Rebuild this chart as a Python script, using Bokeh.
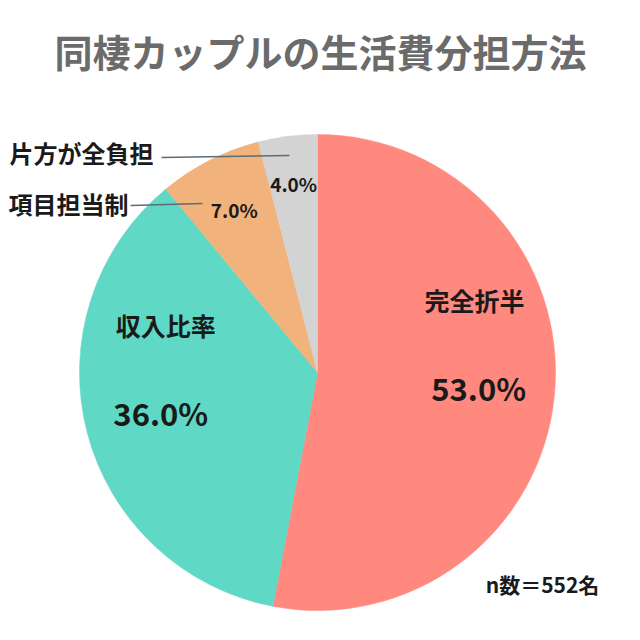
import math
from bokeh.plotting import figure
from bokeh.models import ColumnDataSource
from bokeh.core.properties import value
from bokeh.embed import file_html
from bokeh.resources import INLINE

# ---- data ----
categories = ["完全折半", "収入比率", "項目担当制", "片方が全負担"]
shares = [53.0, 36.0, 7.0, 4.0]
colors = ["#FF897F", "#5FD9C5", "#F1B27C", "#D3D3D3"]
title_text = "同棲カップルの生活費分担方法"
note_text = "n数＝552名"

W = H = 640
FONT = value("Noto Sans CJK JP")

p = figure(width=W, height=H, x_range=(0, W), y_range=(0, H),
           output_backend="svg", toolbar_location=None, min_border=0)
p.axis.visible = False
p.grid.visible = False
p.outline_line_color = None
p.background_fill_color = "white"
p.border_fill_color = "white"

def Y(v):
    return H - v

cx, cy, R = 317, Y(372), 238

total = sum(shares)
starts, ends = [], []
acc = 0.0
for s in shares:
    starts.append(math.pi / 2 - 2 * math.pi * acc / total)
    acc += s
    ends.append(math.pi / 2 - 2 * math.pi * acc / total)

src = ColumnDataSource(dict(start=starts, end=ends, color=colors, cat=categories, share=shares))
p.wedge(x=cx, y=cy, radius=R, start_angle="start", end_angle="end", direction="clock",
        fill_color="color", line_color="color", line_width=0.5, source=src)

# percent labels placed along the middle angle of each slice
rad_frac = [0.68, 0.68, 0.77, 0.80]
pct_size = ["31px", "31px", "19px", "19px"]
lx, ly, lt = [], [], []
for i, s in enumerate(shares):
    mid = (starts[i] + ends[i]) / 2
    r = R * rad_frac[i]
    x = cx + r * math.cos(mid)
    y = cy + r * math.sin(mid)
    lx.append(x); ly.append(y); lt.append(f"{s:.1f}%")
    p.text(x=[x], y=[y], text=[lt[-1]], text_font=FONT, text_font_style="bold",
           text_font_size=pct_size[i], text_color="#1a1a1a",
           text_align="center", text_baseline="middle")

# inside category names for the two big slices
name_dx = [-4, 5]
for i in range(2):
    p.text(x=[lx[i] + name_dx[i]], y=[ly[i] + 88], text=[categories[i]],
           text_font=FONT, text_font_style="bold", text_font_size="25px",
           text_color="#1a1a1a", text_align="center", text_baseline="middle")

# outside names with leader lines
p.text(x=[153], y=[Y(152)], text=[categories[3]], text_font=FONT, text_font_style="bold",
       text_font_size="24px", text_color="#1a1a1a", text_align="right", text_baseline="middle")
p.segment(x0=[161], y0=[Y(157)], x1=[289], y1=[Y(155)], line_color="#5b6b78", line_width=1.5)

p.text(x=[128], y=[Y(203)], text=[categories[2]], text_font=FONT, text_font_style="bold",
       text_font_size="24px", text_color="#1a1a1a", text_align="right", text_baseline="middle")
p.segment(x0=[130], y0=[Y(205)], x1=[202], y1=[Y(203)], line_color="#5b6b78", line_width=1.5)

# title and note
p.text(x=[W / 2], y=[Y(50)], text=[title_text], text_font=FONT, text_font_style="bold",
       text_font_size="38px", text_color="#6b6b6b", text_align="center", text_baseline="middle")
p.text(x=[542], y=[Y(583)], text=[note_text], text_font=FONT, text_font_style="bold",
       text_font_size="21px", text_color="#1a1a1a", text_align="center", text_baseline="middle")

open("out.html", "w").write(file_html(p, INLINE))
